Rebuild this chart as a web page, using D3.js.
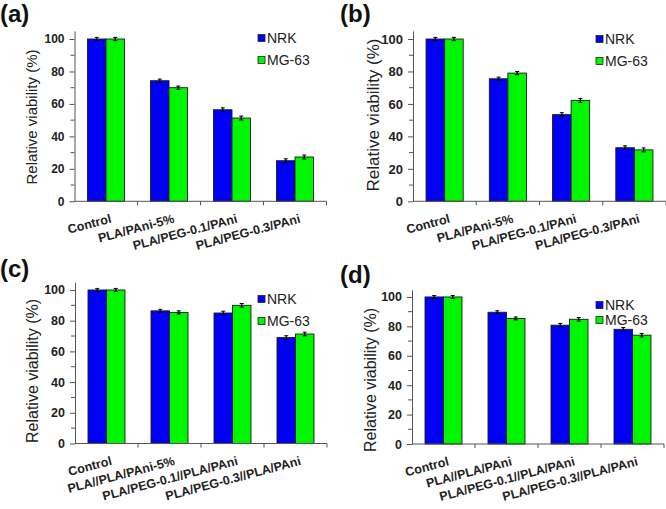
<!DOCTYPE html>
<html><head><meta charset="utf-8">
<script src="https://cdn.jsdelivr.net/npm/d3@7"></script>
<style>body{margin:0;background:#fff}svg{display:block}text{font-family:Arial,"Liberation Sans",sans-serif}</style>
</head><body><svg id="c" width="666" height="509"></svg>
<script>
// ---------- data ----------
const seriesNames = ["NRK", "MG-63"];
const panelTags = ["(a)", "(b)", "(c)", "(d)"];
const catsAB = ["Control", "PLA/PAni-5%", "PLA/PEG-0.1/PAni", "PLA/PEG-0.3/PAni"];
const catsC = ["Control", "PLA//PLA/PAni-5%", "PLA/PEG-0.1//PLA/PAni", "PLA/PEG-0.3//PLA/PAni"];
const catsD = ["Control", "PLA//PLA/PAni", "PLA/PEG-0.1//PLA/PAni", "PLA/PEG-0.3//PLA/PAni"];
const nrkA = [100, 74.3, 56.4, 25.0];
const mgA  = [100, 70.0, 51.3, 27.3];
const nrkB = [100, 75.5, 53.4, 33.0];
const mgB  = [100, 79.0, 62.2, 31.7];
const nrkC = [100, 86.4, 85.0, 69.0];
const mgC  = [100, 85.4, 90.0, 71.3];
const nrkD = [100, 89.6, 80.8, 78.0];
const mgD  = [100, 85.4, 84.8, 74.0];
const errNrk = [1.0, 1.0, 1.2, 1.2];
const errMg  = [1.0, 1.0, 1.2, 1.2];
const yTicks = [0, 20, 40, 60, 80, 100];
const yMinorTicks = [10, 30, 50, 70, 90];
const yTitle = "Relative viability (%)";

// ---------- layout ----------
const colors = ["#0000f5", "#00f500"];
const panels = [
  {tag: panelTags[0], cats: catsAB, nrk: nrkA, mg: mgA, x0: 74.5, x1: 326.5, y0: 201.3, yTop: 30.9, tagX: 0, tagY: 22, titleX: 37, titleY: 117, titleSize: 15, tickSize: 12, legX: 258, legY: 38, legGap: 22},
  {tag: panelTags[1], cats: catsAB, nrk: nrkB, mg: mgB, x0: 413, x1: 666, y0: 201.3, yTop: 30.9, tagX: 340, tagY: 22, titleX: 379, titleY: 115, titleSize: 17, tickSize: 13, legX: 596, legY: 39, legGap: 22},
  {tag: panelTags[2], cats: catsC, nrk: nrkC, mg: mgC, x0: 75, x1: 327, y0: 443.5, yTop: 282.3, tagX: 0, tagY: 277, titleX: 38, titleY: 371, titleSize: 16, tickSize: 12.5, legX: 258, legY: 299, legGap: 22},
  {tag: panelTags[3], cats: catsD, nrk: nrkD, mg: mgD, x0: 412, x1: 664, y0: 444, yTop: 289.6, tagX: 340, tagY: 283, titleX: 376, titleY: 380, titleSize: 16, tickSize: 12.5, legX: 596, legY: 305, legGap: 15}
];

const svg = d3.select("#c");

panels.forEach(p => {
  const g = svg.append("g");
  const y = d3.scaleLinear().domain([0, 105]).range([p.y0, p.yTop]);
  const x = d3.scaleBand().domain(p.cats).range([p.x0, p.x1]).paddingInner(0.413).paddingOuter(0.2065);
  const xs = d3.scaleBand().domain(seriesNames).range([0, x.bandwidth()]);
  const step = x.step();

  // bars
  const rows = p.cats.map((c, i) => ({c, vals: [p.nrk[i], p.mg[i]], errs: [errNrk[i], errMg[i]]}));
  const grp = g.selectAll("g.cat").data(rows).join("g").attr("transform", d => `translate(${x(d.c)},0)`);
  grp.selectAll("rect").data(d => d.vals.map((v, k) => ({v, k, s: seriesNames[k]})))
    .join("rect")
    .attr("x", d => xs(d.s)).attr("width", xs.bandwidth())
    .attr("y", d => y(d.v)).attr("height", d => y(0) - y(d.v))
    .attr("fill", d => colors[d.k]).attr("stroke", "#1a1a1a").attr("stroke-width", 0.9);
  // error bars
  const eb = grp.selectAll("g.eb").data(d => d.vals.map((v, k) => ({v, e: d.errs[k], s: seriesNames[k]})))
    .join("g").attr("transform", d => `translate(${xs(d.s) + xs.bandwidth() / 2},0)`);
  eb.append("line").attr("x1", 0).attr("x2", 0).attr("y1", d => y(d.v + d.e)).attr("y2", d => y(d.v - d.e)).attr("stroke", "#000").attr("stroke-width", 1.3);
  eb.append("line").attr("x1", -2).attr("x2", 2).attr("y1", d => y(d.v + d.e)).attr("y2", d => y(d.v + d.e)).attr("stroke", "#000").attr("stroke-width", 1);
  eb.append("line").attr("x1", -2).attr("x2", 2).attr("y1", d => y(d.v - d.e)).attr("y2", d => y(d.v - d.e)).attr("stroke", "#000").attr("stroke-width", 1);

  // y axis
  const ya = g.append("g").attr("transform", `translate(${p.x0},0)`)
    .call(d3.axisLeft(y).tickValues(yTicks).tickSize(5).tickSizeOuter(0).tickPadding(5));
  ya.select(".domain").attr("stroke", "#555");
  ya.selectAll(".tick line").attr("stroke", "#555");
  ya.selectAll("text").attr("font-size", p.tickSize).attr("font-weight", "bold").attr("fill", "#222").style("font-family", "Arial, 'Liberation Sans', sans-serif");
  g.append("g").selectAll("line").data(yMinorTicks).join("line")
    .attr("x1", p.x0 - 4).attr("x2", p.x0).attr("y1", d => y(d)).attr("y2", d => y(d)).attr("stroke", "#555");

  // x axis
  g.append("line").attr("x1", p.x0).attr("x2", p.x1).attr("y1", p.y0).attr("y2", p.y0).attr("stroke", "#555");
  g.append("g").selectAll("line").data(d3.range(1, p.cats.length + 1)).join("line")
    .attr("x1", i => p.x0 + i * step).attr("x2", i => p.x0 + i * step)
    .attr("y1", p.y0).attr("y2", p.y0 + 4).attr("stroke", "#555");
  g.append("g").selectAll("text").data(p.cats).join("text")
    .attr("transform", d => `translate(${x(d) + x.bandwidth() / 2 + 6},${p.y0 + 21}) rotate(-15)`)
    .attr("text-anchor", "end").attr("font-size", 12.5).attr("font-weight", "bold").attr("fill", "#222")
    .text(d => d);

  // y title
  g.append("text").attr("transform", `translate(${p.titleX},${p.titleY}) rotate(-90)`)
    .attr("text-anchor", "middle").attr("font-size", p.titleSize).attr("fill", "#222").text(yTitle);

  // tag
  g.append("text").attr("x", p.tagX).attr("y", p.tagY).attr("font-size", 24).attr("font-weight", "bold").attr("fill", "#111").text(p.tag);

  // legend
  const lg = g.append("g").selectAll("g").data(seriesNames).join("g")
    .attr("transform", (d, i) => `translate(${p.legX},${p.legY + i * p.legGap})`);
  lg.append("rect").attr("x", 0).attr("y", -3.5).attr("width", 7).attr("height", 7).attr("fill", (d, i) => colors[i]).attr("stroke", "#222").attr("stroke-width", 0.8);
  lg.append("text").attr("x", 9).attr("y", 5).attr("font-size", 14).attr("fill", "#222").text(d => d);
});
</script></body></html>
